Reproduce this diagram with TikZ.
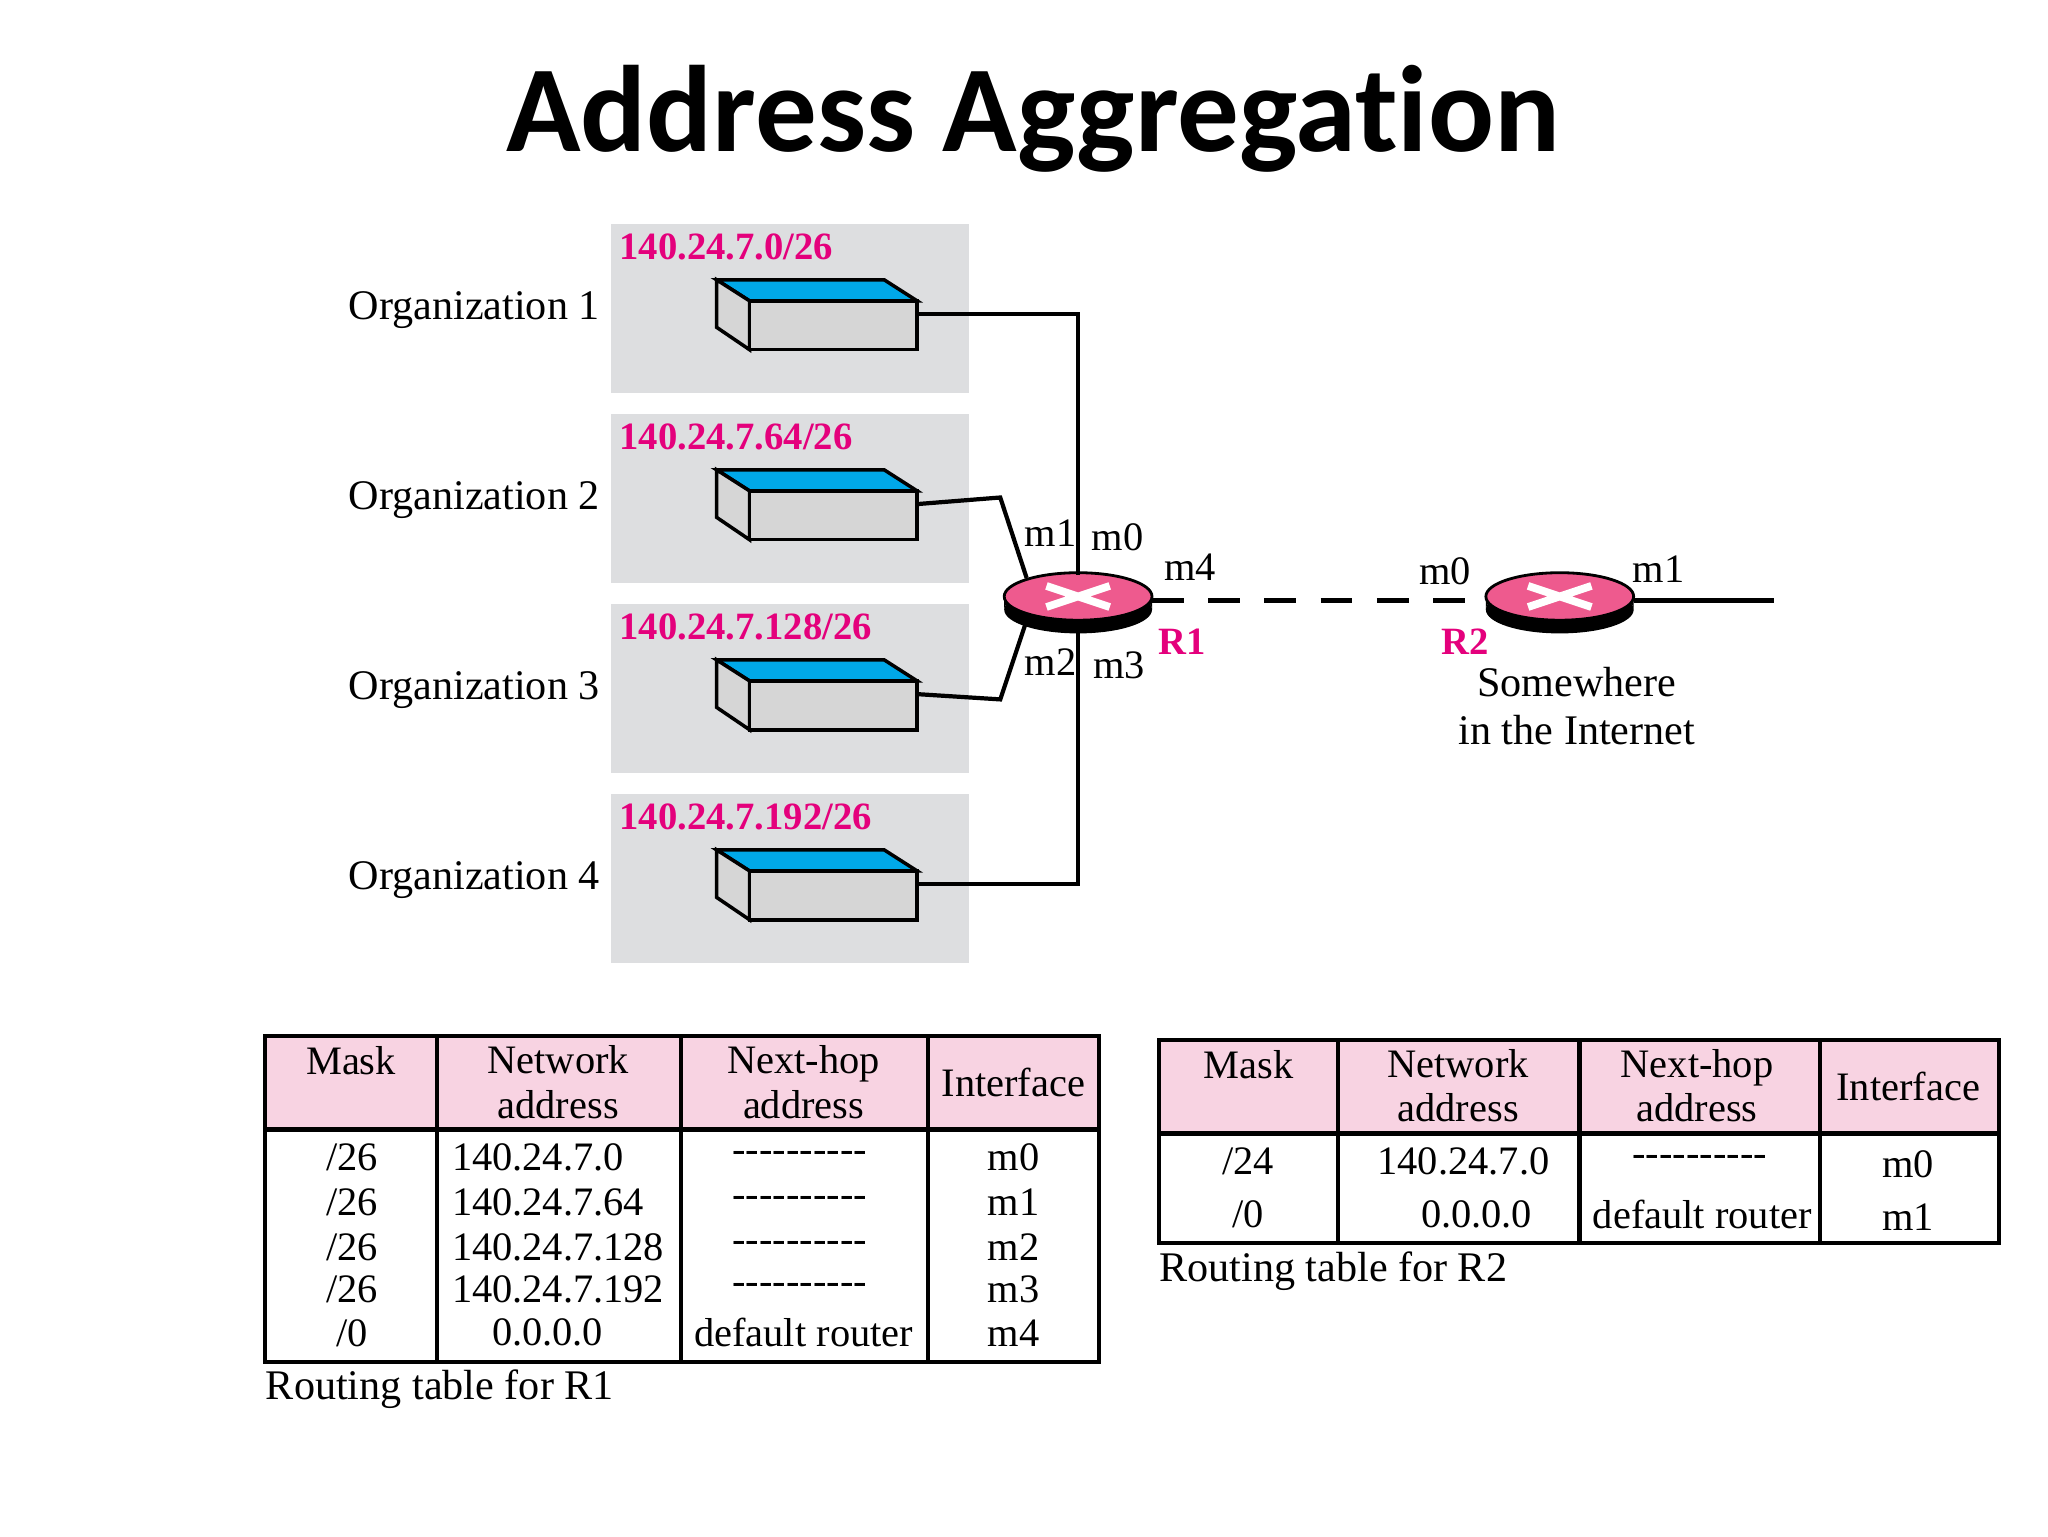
\documentclass[tikz,border=0pt]{standalone}
\usepackage{fontspec}
\setmainfont{Liberation Serif}
\newfontfamily\titlefont[Ligatures={NoCommon,NoRare,NoDiscretionary}]{Carlito}
\definecolor{panel}{HTML}{DDDEE0}
\definecolor{swblue}{HTML}{00A8E8}
\definecolor{swgray}{HTML}{D6D6D6}
\definecolor{mag}{HTML}{E4007C}
\definecolor{rpink}{HTML}{EE5A8E}
\definecolor{hdr}{HTML}{F8D3E2}
\newcommand{\dsh}{-\kern0pt-\kern0pt-\kern0pt-\kern0pt-\kern0pt-\kern0pt-\kern0pt-\kern0pt-\kern0pt-}
\begin{document}
\begin{tikzpicture}[x=0.013196cm,y=-0.013196cm,
  txt/.style={font=\fontsize{11.5}{12}\selectfont,inner sep=0pt},
  org/.style={font=\fontsize{12}{12}\selectfont,inner sep=0pt},
  lab/.style={font=\fontsize{11}{12}\selectfont\bfseries,text=mag,inner sep=0pt},
  wire/.style={line width=1.2pt},
  grid/.style={line width=1.2pt}]
\useasboundingbox (0,0) rectangle (1552,1164);
\node[font=\titlefont\fontsize{35}{38}\selectfont\bfseries] (title) at (783,90) {Address Aggregation};
% panels and switches
\foreach \i/\y/\net in {1/170/140.24.7.0\slash 26,2/314/140.24.7.64\slash 26,3/458/140.24.7.128\slash 26,4/602/140.24.7.192\slash 26}{
  \fill[panel] (463,\y) rectangle (734,\y+128);
  \node[lab,anchor=west] (net\i) at (469,\y+17) {\net};
  \node[org,anchor=east] (org\i) at (455,\y+65) {Organization \i};
  \begin{scope}[yshift={-(\y-170)*0.013196cm}]
  \filldraw[fill=swblue,line width=1pt] (543,212)--(670,212)--(695,228)--(568,228)--cycle;
  \filldraw[fill=swgray,line width=1pt] (543,212)--(568,228)--(568,265)--(543,248)--cycle;
  \filldraw[fill=swgray,line width=1pt] (568,228) rectangle (695,265);
  \end{scope}
  \coordinate (sw\i) at (695,\y+68);
}
% routers
\foreach \n/\x in {R1/817,R2/1182}{
  \fill (\x-56,462) arc[start angle=180,end angle=360,x radius=56,y radius=18] -- (\x+56,452) -- (\x-56,452) -- cycle;
  \fill[black] (\x,462) ellipse[x radius=56,y radius=18];
  \filldraw[fill=rpink,draw=black,line width=0.8pt] (\x,452) ellipse[x radius=56,y radius=18];
  \draw[white,line width=2.2pt] (\x-24,444)--(\x+24,460) (\x-24,460)--(\x+24,444);
  \coordinate (\n) at (\x,455);
}
\coordinate (r1t) at (817,436); \coordinate (r1b) at (817,474);
\draw[wire] (sw1) -| (r1t);
\draw[wire] (sw4) -| (r1b);
\draw[wire] (sw2) -- (758,377) -- (778,438);
\draw[wire] (sw3) -- (758,530) -- (778,470);
\coordinate (r1e) at (873,455); \coordinate (r2w) at (1127,455);
\coordinate (r2e) at (1238,455); \coordinate (far) at (1344,455);
\draw[wire,dash pattern=on 9pt off 7pt] (r1e) -- (r2w);
\draw[wire] (r2e) -- (far);
\node[txt] (m1a) at (796,404) {m1};
\node[txt] (m0a) at (847,407) {m0};
\node[txt] (m4a) at (902,430) {m4};
\node[txt] (m2a) at (796,502) {m2};
\node[txt] (m3a) at (848,504) {m3};
\node[lab] (r1l) at (896,486) {R1};
\node[txt] (m0b) at (1095,433) {m0};
\node[txt] (m1b) at (1257,431) {m1};
\node[lab] (r2l) at (1110,486) {R2};
\node[org,align=center,font=\fontsize{12}{13.5}\selectfont] (some) at (1195,535) {Somewhere\\in the Internet};
% table R1
\fill[hdr] (201,785) rectangle (833,856);
\draw[grid] (201,785) rectangle (833,1032) (201,856)--(833,856)
  (331,785)--(331,1032) (516,785)--(516,1032) (703,785)--(703,1032);
\node[txt] (h1) at (266,804) {Mask};
\node[txt,align=center,font=\fontsize{11.5}{12.6}\selectfont] (h2) at (423,820) {Network\\address};
\node[txt,align=center,font=\fontsize{11.5}{12.6}\selectfont] (h3) at (609,820) {Next-hop\\address};
\node[txt] (h4) at (768,820) {Interface};
\foreach \y/\a/\i in {877/140.24.7.0/m0,911/140.24.7.64/m1,945/140.24.7.128/m2,977/140.24.7.192/m3}{
  \node[txt] at (267,\y) {\slash 26};
  \node[txt,anchor=west] at (342,\y) {\a};
  \node[txt] at (606,\y) {\dsh};
  \node[txt] at (768,\y) {\i};
}
\node[txt] (a5) at (267,1010) {/0};
\node[txt] (b5) at (415,1010) {0.0.0.0};
\node[txt] (c5) at (609,1010) {default router};
\node[txt] (d5) at (768,1010) {m4};
\node[org,anchor=west] (cap1) at (201,1053) {Routing table for R1};
% table R2
\fill[hdr] (878,788) rectangle (1515,859);
\draw[grid] (878,788) rectangle (1515,942) (878,859)--(1515,859)
  (1014,788)--(1014,942) (1197,788)--(1197,942) (1379,788)--(1379,942);
\node[txt] (k1) at (946,807) {Mask};
\node[txt,align=center,font=\fontsize{11.5}{12.6}\selectfont] (k2) at (1105,823) {Network\\address};
\node[txt,align=center,font=\fontsize{11.5}{12.6}\selectfont] (k3) at (1286,823) {Next-hop\\address};
\node[txt] (k4) at (1446,823) {Interface};
\node[txt] (e1) at (946,880) {/24};
\node[txt] (f1) at (1109,880) {140.24.7.0};
\node[txt] (g1) at (1288,880) {\dsh};
\node[txt] (i1) at (1446,882) {m0};
\node[txt] (e2) at (946,920) {/0};
\node[txt] (f2) at (1119,920) {0.0.0.0};
\node[txt] (g2) at (1290,920) {default router};
\node[txt] (i2) at (1446,922) {m1};
\node[org,anchor=west] (cap2) at (878,963) {Routing table for R2};
\end{tikzpicture}
\end{document}
